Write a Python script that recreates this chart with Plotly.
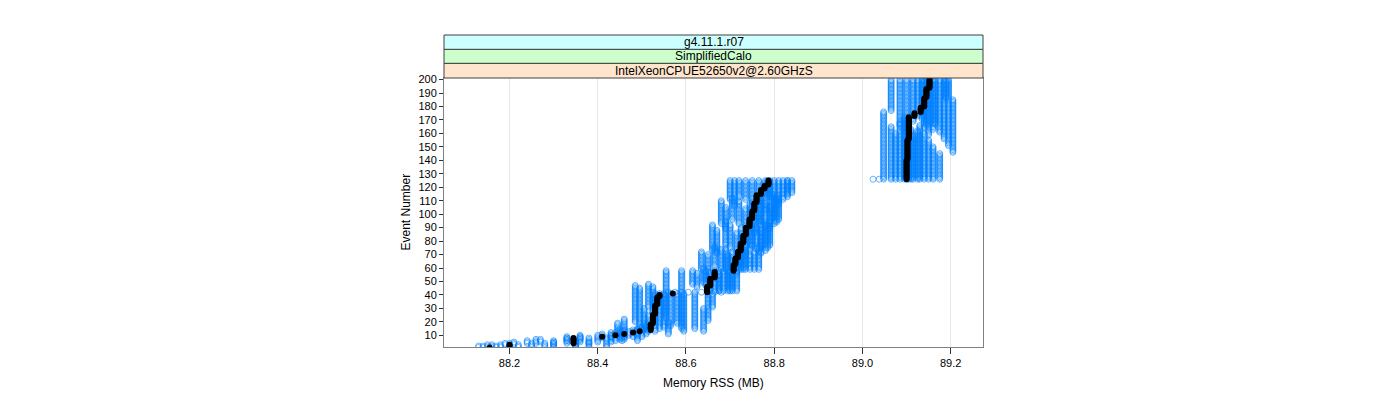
import plotly.graph_objects as go

# ---------------- data ----------------
# each run: list of (first_event, last_event, memory_MB) step segments
run01 = [(1,2,88.13),(3,4,88.19),(5,7,88.27),(8,11,88.41),(12,19,88.445),(20,47,88.485),(48,58,88.615),(59,72,88.635),(73,92,88.66),(93,110,88.68),(111,125,88.70),(126,176,89.048),(177,200,89.065)]
run02 = [(1,3,88.16),(4,6,88.24),(7,10,88.36),(11,14,88.45),(15,45,88.495),(46,56,88.625),(57,70,88.65),(71,88,88.67),(89,105,88.69),(106,125,88.71),(126,165,89.065),(166,200,89.085)]
run03 = [(1,2,88.14),(3,5,88.21),(6,9,88.33),(10,13,88.47),(14,30,88.505),(31,48,88.515),(49,60,88.64),(61,76,88.665),(77,95,88.69),(96,112,88.705),(113,125,88.72),(126,160,89.075),(161,200,89.10)]
run04 = [(1,3,88.15),(4,7,88.26),(8,12,88.43),(13,25,88.515),(26,46,88.525),(47,58,88.645),(59,74,88.68),(75,92,88.70),(93,110,88.72),(111,125,88.735),(126,168,89.085),(169,200,89.115)]
run05 = [(1,2,88.17),(3,6,88.30),(7,12,88.45),(13,41,88.53),(42,42,88.56),(43,57,88.655),(58,70,88.695),(71,86,88.715),(87,104,88.735),(105,125,88.75),(126,172,89.095),(173,200,89.125)]
run06 = [(1,3,88.18),(4,8,88.33),(9,14,88.48),(15,41,88.54),(42,42,88.575),(43,58,88.665),(59,72,88.705),(73,90,88.725),(91,108,88.745),(109,125,88.765),(126,170,89.10),(171,200,89.135)]
run07 = [(1,4,88.20),(5,9,88.36),(10,15,88.49),(16,41,88.55),(42,42,88.59),(43,55,88.675),(56,68,88.715),(69,85,88.735),(86,102,88.755),(103,125,88.78),(126,165,89.105),(166,200,89.145)]
run08 = [(1,3,88.22),(4,8,88.38),(9,16,88.50),(17,41,88.565),(42,42,88.605),(43,58,88.685),(59,75,88.725),(76,94,88.75),(95,112,88.77),(113,125,88.79),(126,158,89.115),(159,200,89.15)]
run09 = [(1,4,88.25),(5,10,88.40),(11,18,88.51),(19,41,88.58),(42,42,88.62),(43,58,88.695),(59,73,88.735),(74,90,88.76),(91,108,88.78),(109,125,88.80),(126,162,89.125),(163,200,89.16)]
run10 = [(1,5,88.30),(6,12,88.44),(13,41,88.595),(42,42,88.635),(43,58,88.705),(59,70,88.745),(71,88,88.77),(89,106,88.79),(107,125,88.81),(126,166,89.13),(167,200,89.165)]
run11 = [(1,6,88.35),(7,14,88.46),(15,41,88.62),(42,42,88.65),(43,58,88.715),(59,72,88.755),(73,92,88.78),(93,110,88.80),(111,125,88.82),(126,160,89.14),(161,200,89.175)]
run12 = [(1,5,88.38),(6,12,88.455),(13,30,88.64),(31,41,88.66),(42,42,88.665),(43,58,88.70),(59,76,88.765),(77,95,88.79),(96,114,88.81),(115,125,88.83),(126,155,89.15),(156,200,89.185)]
run13 = [(1,8,88.42),(9,22,88.46),(23,58,88.555),(59,75,88.69),(76,96,88.77),(97,115,88.795),(116,125,88.84),(126,150,89.16),(151,200,89.195)]
run14 = [(1,5,88.35),(6,14,88.49),(15,58,88.59),(59,74,88.73),(75,93,88.785),(94,112,88.805),(113,125,88.83),(126,145,89.175),(146,185,89.205),(186,200,89.19)]
run15 = [(1,4,88.28),(5,10,88.43),(11,20,88.56),(21,41,88.65),(42,42,88.68),(43,58,88.675),(59,72,88.72),(73,92,88.745),(93,112,88.765),(113,125,88.785),(126,163,89.11),(164,200,89.14)]
run16 = [(126,126,89.024)]
run17 = [(126,126,89.038)]

median_run = [(1,1,88.155),(2,3,88.20),(4,8,88.345),(9,9,88.41),(10,10,88.44),(11,11,88.46),(12,12,88.48),(13,13,88.495),
              (14,18,88.52),(19,25,88.525),(26,32,88.53),(33,38,88.535),(39,40,88.54),(41,41,88.57),
              (42,46,88.648),(47,52,88.655),(53,57,88.665),(58,62,88.708),(63,67,88.712),(68,72,88.718),
              (73,78,88.724),(79,84,88.73),(85,90,88.736),(91,96,88.744),(97,102,88.75),(103,108,88.755),
              (109,114,88.76),(115,118,88.77),(119,121,88.778),(122,125,88.787),
              (126,140,89.10),(141,155,89.102),(156,172,89.105),(173,175,89.118),(176,179,89.132),
              (180,186,89.14),(187,193,89.145),(194,200,89.152)]

x_ticks = [88.2, 88.4, 88.6, 88.8, 89.0, 89.2]
x_tick_labels = ["88.2", "88.4", "88.6", "88.8", "89.0", "89.2"]
y_ticks = list(range(10, 201, 10))
strip_labels = ["IntelXeonCPUE52650v2@2.60GHzS", "SimplifiedCalo", "g4.11.1.r07"]
strip_colors = ["#ffe5cc", "#ccffcc", "#ccffff"]
x_title = "Memory RSS (MB)"
y_title = "Event Number"

runs = [run01, run02, run03, run04, run05, run06, run07, run08, run09,
        run10, run11, run12, run13, run14, run15, run16, run17]


def expand(segments):
    xs, ys = [], []
    for first, last, value in segments:
        for ev in range(first, last + 1):
            xs.append(value)
            ys.append(ev)
    return xs, ys


# ---------------- figure ----------------
# page body adds an 8px offset, so margins are expressed relative to that
OFF = 8
W, H = 1400, 400
plot_left_px, plot_right_px = 444, 983
plot_top_px, plot_bot_px = 78, 347
paper_top_px = 35
ML = plot_left_px - OFF
MR = W - (plot_right_px - OFF)
MT = paper_top_px - OFF
MB = H - (plot_bot_px - OFF)
paper_h = plot_bot_px - paper_top_px
plot_w = plot_right_px - plot_left_px
dom_top = (plot_bot_px - plot_top_px) / paper_h

fig = go.Figure()
FONT = "Liberation Sans, Arial, sans-serif"

bx, by = [], []
for r in runs:
    xs, ys = expand(r)
    bx += xs
    by += ys
fig.add_trace(go.Scatter(
    x=bx, y=by, mode="markers", showlegend=False, hoverinfo="x+y",
    marker=dict(symbol="circle-open", size=6, color="#0080ff", line=dict(width=0.6, color="#0080ff"))))

mx, my = expand(median_run)
fig.add_trace(go.Scatter(
    x=mx, y=my, mode="markers", showlegend=False, hoverinfo="x+y",
    marker=dict(symbol="circle", size=6, color="black")))

# strips
strip_px = [(78, 63.3), (63.3, 49.3), (49.3, 35)]
for (lo, hi), lab, col in zip(strip_px, strip_labels, strip_colors):
    y0 = (plot_bot_px - lo) / paper_h
    y1 = (plot_bot_px - hi) / paper_h
    fig.add_shape(type="rect", xref="paper", yref="paper", x0=0, x1=1, y0=y0, y1=y1,
                  fillcolor=col, line=dict(color="#404040", width=1), layer="above")
    fig.add_annotation(xref="paper", yref="paper", x=0.5, y=(y0 + y1) / 2, text=lab,
                       showarrow=False, font=dict(family=FONT, size=12, color="black"),
                       xanchor="center", yanchor="middle")

# axis titles
fig.add_annotation(xref="paper", yref="paper", x=0.5, y=(plot_bot_px - 383) / paper_h,
                   text=x_title, showarrow=False, xanchor="center", yanchor="middle",
                   font=dict(family=FONT, size=12, color="black"))
fig.add_annotation(xref="paper", yref="paper", x=(405 - plot_left_px) / plot_w, y=dom_top / 2,
                   text=y_title, textangle=-90, showarrow=False, xanchor="center", yanchor="middle",
                   font=dict(family=FONT, size=12, color="black"))

xr = [88.0515, 89.2732]
fig.update_layout(
    width=W, height=H, margin=dict(l=ML, r=MR, t=MT, b=MB),
    paper_bgcolor="white", plot_bgcolor="white",
    font=dict(family=FONT, size=11, color="black"),
    xaxis=dict(range=xr, tickvals=x_ticks, ticktext=x_tick_labels, ticks="outside", ticklen=6,
               tickcolor="#333333", showgrid=True, gridcolor="#e8e8e8", gridwidth=1,
               showline=True, linecolor="#808080", linewidth=1, mirror=True, zeroline=False,
               tickfont=dict(family=FONT, size=11, color="black")),
    xaxis2=dict(range=xr, overlaying="x", side="top", anchor="free", position=1,
                tickvals=x_ticks, ticks="outside", ticklen=6, tickcolor="#333333",
                showticklabels=False, showgrid=False, showline=False, zeroline=False),
    yaxis=dict(range=[1.3, 201.2], domain=[0, dom_top], tickvals=y_ticks, ticks="outside", ticklen=4,
               tickcolor="#333333", showgrid=False, showline=True, linecolor="#808080", linewidth=1,
               mirror=True, zeroline=False, tickfont=dict(family=FONT, size=11, color="black")),
)

fig.write_html("out.html")
